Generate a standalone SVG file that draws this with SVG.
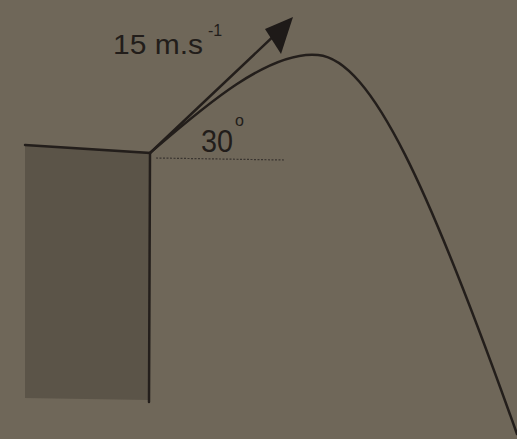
<svg xmlns="http://www.w3.org/2000/svg" width="517" height="439" viewBox="0 0 517 439">
<defs>
<style>
.ln{stroke:#231e1b;stroke-width:2.5;fill:none;stroke-linecap:round}
.t{font-family:"Liberation Sans",Arial,sans-serif;fill:#221d1a}
</style>
</defs>
<rect width="517" height="439" fill="#6f6759"/>
<g id="building">
<polygon points="25,145 150,153 149,400 25,398" fill="#5b5448"/>
<polyline class="ln" points="25,145 150,153 149,402"/>
</g>
<g id="connectors">
<line x1="150" y1="153" x2="280" y2="30" class="ln"/>
<path d="M265,29 L293,17 L281,54 Z" fill="#1e1a18"/>
<path class="ln" d="M150,153 C200,110 268,50 318,55 C372,60 430,190 517,434"/>
<line x1="156" y1="158" x2="284" y2="160" stroke="#3a3530" stroke-width="1.2" stroke-dasharray="2,1.5"/>
</g>
<g id="labels">
<text class="t" x="113" y="54" font-size="28" textLength="90" lengthAdjust="spacingAndGlyphs">15 m.s</text>
<text class="t" x="208" y="36" font-size="16">-1</text>
<text class="t" x="201" y="152" font-size="32" textLength="32" lengthAdjust="spacingAndGlyphs">30</text>
<text class="t" x="235" y="126" font-size="16">o</text>
</g>
</svg>
